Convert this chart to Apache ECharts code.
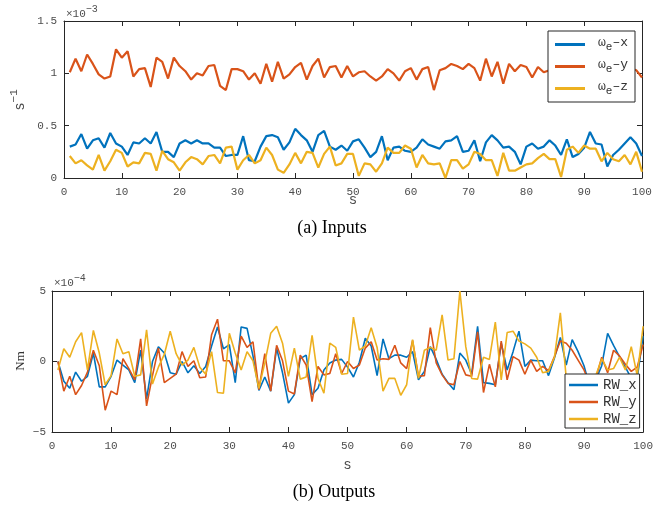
<!DOCTYPE html>
<html><head><meta charset="utf-8">
<script src="https://cdn.jsdelivr.net/npm/echarts@6.0.0/dist/echarts.min.js"></script>
<style>html,body{margin:0;padding:0;background:#fff}#c{width:656px;height:506px}</style>
</head><body><div id="c"></div>
<script>
// sample index (s)
const steps = Array.from({length: 100}, (_, i) => i + 1);
const xTicks = {min: 0, max: 100, interval: 10};

// (a) Inputs, units of 1e-3 s^-1
const inputScaleExp = -3;
const omegaX = [
0.30,0.32,0.42,0.28,0.36,0.38,0.29,0.43,0.33,0.30,
0.22,0.34,0.33,0.38,0.33,0.44,0.25,0.25,0.20,0.33,
0.36,0.33,0.36,0.33,0.33,0.29,0.29,0.21,0.22,0.22,
0.40,0.17,0.16,0.30,0.40,0.41,0.39,0.27,0.34,0.47,
0.41,0.36,0.25,0.41,0.45,0.30,0.27,0.31,0.26,0.35,
0.37,0.29,0.20,0.25,0.40,0.17,0.29,0.30,0.26,0.25,
0.29,0.37,0.32,0.30,0.28,0.35,0.36,0.40,0.25,0.26,
0.36,0.16,0.34,0.41,0.36,0.29,0.30,0.25,0.13,0.30,
0.33,0.28,0.30,0.36,0.31,0.22,0.37,0.20,0.23,0.29,
0.44,0.33,0.32,0.11,0.22,0.27,0.33,0.39,0.33,0.21];
const omegaY = [
1.01,1.14,1.02,1.18,1.09,0.99,0.95,0.97,1.23,1.15,
1.21,0.97,1.04,1.05,0.87,1.15,1.11,0.95,1.15,1.07,
1.02,0.94,1.00,0.98,1.07,1.08,0.88,0.84,1.04,1.04,
1.02,0.94,1.00,0.90,1.09,0.92,1.11,0.95,0.99,1.06,
1.10,0.94,1.07,1.14,0.96,1.06,1.07,0.96,1.07,0.97,
1.01,1.02,0.97,0.93,0.97,1.04,1.00,0.93,1.02,1.05,
0.94,1.04,1.06,0.84,1.03,1.05,1.09,1.07,1.04,1.09,
1.05,0.93,1.14,0.97,1.11,0.90,1.09,1.02,1.08,1.06,
0.96,1.06,1.01,1.03,0.98,1.05,0.95,1.02,1.08,0.97,
1.04,0.99,1.06,0.94,1.03,1.01,0.98,1.05,1.03,0.96];
const omegaZ = [
0.21,0.14,0.17,0.12,0.08,0.22,0.07,0.16,0.27,0.24,
0.11,0.15,0.14,0.24,0.23,0.07,0.26,0.18,0.15,0.07,
0.15,0.20,0.18,0.13,0.21,0.22,0.14,0.29,0.30,0.08,
0.17,0.22,0.14,0.17,0.29,0.22,0.08,0.05,0.13,0.24,
0.14,0.25,0.24,0.10,0.23,0.30,0.12,0.14,0.23,0.23,
0.02,0.14,0.13,0.06,0.14,0.29,0.24,0.24,0.31,0.28,
0.10,0.22,0.14,0.13,0.14,0.00,0.17,0.17,0.09,0.13,
0.25,0.23,0.17,0.17,0.02,0.24,0.07,0.07,0.10,0.13,
0.14,0.19,0.23,0.18,0.18,0.01,0.27,0.30,0.24,0.31,
0.28,0.28,0.16,0.24,0.18,0.16,0.22,0.13,0.25,0.06];
const inputYTicks = {min: 0, max: 1.5, interval: 0.5};

// (b) Outputs, units of 1e-4 Nm
const outputScaleExp = -4;
const rwX = [
0.00,-1.40,-1.90,-0.75,-1.40,-1.05,0.60,-1.80,-1.80,-1.05,
0.10,-0.25,-0.60,-1.50,0.80,-2.65,0.00,1.05,0.60,-0.80,
-0.90,0.00,-0.80,-0.30,-0.85,-0.35,1.10,2.45,0.90,1.20,
-1.50,2.45,2.35,0.40,-2.05,-1.10,-2.10,0.95,-0.80,-2.95,
-2.35,0.20,0.45,-2.35,-1.90,-0.60,-0.10,0.10,0.15,-0.40,
-1.10,-0.05,1.65,1.10,-1.00,1.60,0.20,0.45,0.45,0.30,
0.70,-1.30,-0.70,1.05,0.15,-0.90,-1.50,-2.00,0.60,0.10,
-0.90,2.50,-1.50,-1.55,-1.65,1.30,-0.60,0.70,2.15,-0.35,
0.10,0.05,0.05,-1.00,0.25,1.70,-0.25,1.55,0.70,-0.30,
-1.80,-1.30,-0.30,2.00,1.15,0.35,-0.40,-1.20,-1.20,1.80];
const rwY = [
0.00,-2.10,-1.05,-2.35,-1.70,-0.75,0.80,-0.30,-3.45,-2.10,
-2.35,0.20,-0.50,-1.30,1.60,-3.15,-1.00,0.95,-1.50,-1.20,
-0.90,0.70,-0.35,0.05,-1.15,-1.10,1.90,3.00,0.05,0.05,
-0.80,1.80,1.00,1.40,-2.00,0.55,-2.10,1.15,0.05,-2.10,
-2.30,0.45,-0.25,-2.85,-0.35,-0.95,-0.85,0.55,-0.85,0.00,
-0.50,-0.25,0.95,1.40,0.10,0.20,0.15,1.15,-0.10,-0.50,
1.50,-1.05,-1.00,2.40,-0.10,-0.95,-1.55,-1.65,0.00,-0.95,
-1.05,2.10,-2.20,-0.20,-1.80,1.45,-1.30,0.35,0.10,-0.90,
0.10,-0.70,-0.35,-0.65,0.35,1.45,1.30,0.80,0.10,-0.60,
-1.60,-1.20,0.30,-0.80,0.80,0.40,-0.20,-0.70,-0.40,1.20];
const rwZ = [
-0.60,0.90,0.30,1.40,2.05,-0.60,2.20,0.60,-1.65,-1.00,
1.60,0.55,0.70,-1.05,-0.95,2.25,-1.60,-0.40,0.50,2.15,
0.55,-0.25,0.10,1.00,-0.40,-0.90,0.70,-2.20,-2.25,2.00,
0.60,-0.60,0.70,0.05,-1.90,-0.10,2.00,2.50,1.30,-1.05,
0.95,-1.25,-1.10,1.85,-1.20,-2.25,1.30,1.00,-0.90,-0.85,
3.15,0.80,1.10,2.40,1.00,-2.10,-1.20,-1.20,-2.40,-1.65,
1.55,-1.20,0.80,1.00,0.80,3.30,0.10,0.20,5.00,1.05,
-1.20,-1.25,0.30,0.15,2.80,-1.30,2.05,2.15,1.45,1.25,
0.95,0.30,-0.80,-0.70,0.30,3.45,-1.20,-1.50,-2.00,-1.50,
-1.80,-1.00,0.20,-0.60,-0.50,0.30,-0.60,1.05,-1.00,2.50];
const outputYTicks = {min: -5, max: 5, interval: 5};

const inputNames = ['ω_e_x', 'ω_e_y', 'ω_e_z'];
const outputNames = ['RW_x', 'RW_y', 'RW_z'];
const captions = ['(a) Inputs', '(b) Outputs'];

const MONO = '"Liberation Mono", "DejaVu Sans Mono", monospace';
const SERIF = '"Liberation Serif", "DejaVu Serif", serif';
const AX = '#262626', LBL = '#4d4d4d';
const COLORS = ['#0072BD', '#D95319', '#EDB120'];

const pair = arr => steps.map((s, i) => [s, arr[i]]);
const minus = v => (v < 0 ? '\u2212' + (-v) : String(v));

function xAxes(g, nameGap) {
  const base = {gridIndex: g, type: 'value', min: xTicks.min, max: xTicks.max, interval: xTicks.interval,
    splitLine: {show: false}, axisLine: {onZero: false, lineStyle: {color: AX, width: 1}},
    axisTick: {inside: true, length: 5, lineStyle: {color: AX}}};
  return [
    Object.assign({}, base, {position: 'bottom',
      axisLabel: {color: LBL, fontFamily: MONO, fontSize: 11, margin: 9},
      name: 's', nameLocation: 'middle', nameGap: nameGap, nameMoveOverlap: false,
      nameTextStyle: {fontFamily: MONO, fontSize: 14, color: LBL}}),
    Object.assign({}, base, {position: 'top', axisLabel: {show: false}})
  ];
}
function yAxes(g, t, margin, fmt) {
  const base = {gridIndex: g, type: 'value', min: t.min, max: t.max, interval: t.interval,
    splitLine: {show: false}, axisLine: {show: true, onZero: false, lineStyle: {color: AX, width: 1}},
    axisTick: {show: true, inside: true, length: 5, lineStyle: {color: AX}}};
  return [
    Object.assign({}, base, {position: 'left',
      axisLabel: {color: LBL, fontFamily: MONO, fontSize: 11, margin: margin, formatter: fmt}}),
    Object.assign({}, base, {position: 'right', axisLabel: {show: false}})
  ];
}

const inSeries = [omegaX, omegaY, omegaZ].map((d, i) => ({
  name: inputNames[i], type: 'line', xAxisIndex: 0, yAxisIndex: 0, data: pair(d),
  symbol: 'none', showSymbol: false, lineStyle: {width: 2.2, color: COLORS[i]}, itemStyle: {color: COLORS[i]},
  animation: false
}));
const outSeries = [rwX, rwY, rwZ].map((d, i) => ({
  name: outputNames[i], type: 'line', xAxisIndex: 2, yAxisIndex: 2, data: pair(d),
  symbol: 'none', showSymbol: false, lineStyle: {width: 1.6, color: COLORS[i]}, itemStyle: {color: COLORS[i]},
  animation: false
}));

const chart = echarts.init(document.getElementById('c'), null, {renderer: 'canvas'});
chart.setOption({
  animation: false,
  backgroundColor: '#fff',
  grid: [
    {left: 64, top: 21, width: 578, height: 157},
    {left: 52, top: 291, width: 595, height: 141}
  ],
  xAxis: [...xAxes(0, 15), ...xAxes(1, 26)],
  yAxis: [...yAxes(0, inputYTicks, 7, null), ...yAxes(1, outputYTicks, 6, minus)],
  legend: [
    {
      data: inputNames, orient: 'vertical', left: 548, top: 31, selectedMode: false,
      icon: 'rect', itemWidth: 30, itemHeight: 3, itemGap: 5,
      padding: [5, 7, 5, 7], backgroundColor: '#fff', borderColor: AX, borderWidth: 1,
      formatter: n => '{w0|ω}{s|e}{w|\u2013' + n.slice(-1) + '}',
      textStyle: {color: AX, fontFamily: MONO, fontSize: 13, rich: {
        w0: {fontFamily: MONO, fontSize: 13, color: '#333', verticalAlign: 'bottom', padding: [0, 0, 4, 8]},
        w: {fontFamily: MONO, fontSize: 13, color: '#333', verticalAlign: 'bottom', padding: [0, 0, 4, 0]},
        s: {fontFamily: MONO, fontSize: 11, color: '#333', verticalAlign: 'bottom', padding: [0, 0, 0, 0]}
      }}
    },
    {
      data: outputNames, orient: 'vertical', left: 565, top: 374, selectedMode: false,
      icon: 'rect', itemWidth: 29, itemHeight: 2.5, itemGap: 3,
      padding: [4, 3, 2, 4], backgroundColor: '#fff', borderColor: AX, borderWidth: 1,
      textStyle: {color: '#333', fontFamily: MONO, fontSize: 14, lineHeight: 14}
    }
  ],
  graphic: [
    {type: 'text', left: 66, top: 4, style: {
      text: '{a|×10}{b|\u2212' + (-inputScaleExp) + '}', fill: LBL,
      rich: {a: {fontFamily: MONO, fontSize: 11, fill: LBL, verticalAlign: 'bottom'},
             b: {fontFamily: MONO, fontSize: 10, fill: LBL, verticalAlign: 'bottom', padding: [0, 0, 6, 0]}}}},
    {type: 'text', left: 54, top: 273, style: {
      text: '{a|×10}{b|\u2212' + (-outputScaleExp) + '}', fill: LBL,
      rich: {a: {fontFamily: MONO, fontSize: 11, fill: LBL, verticalAlign: 'bottom'},
             b: {fontFamily: MONO, fontSize: 10, fill: LBL, verticalAlign: 'bottom', padding: [0, 0, 6, 0]}}}},
    {type: 'text', x: 18, y: 100, rotation: Math.PI / 2, style: {
      text: '{a|s}{b|\u22121}', align: 'center', verticalAlign: 'middle', fill: LBL,
      rich: {a: {fontFamily: MONO, fontSize: 14, fill: LBL, verticalAlign: 'bottom'},
             b: {fontFamily: MONO, fontSize: 11, fill: LBL, verticalAlign: 'bottom', padding: [0, 0, 7, 0]}}}},
    {type: 'text', x: 21, y: 361, rotation: Math.PI / 2, style: {
      text: 'Nm', align: 'center', verticalAlign: 'middle', fill: '#333',
      font: '13px ' + SERIF}},
    {type: 'text', x: 332, y: 228, style: {
      text: captions[0], align: 'center', verticalAlign: 'middle', fill: '#000',
      font: '18px ' + SERIF}},
    {type: 'text', x: 334, y: 492, style: {
      text: captions[1], align: 'center', verticalAlign: 'middle', fill: '#000',
      font: '18px ' + SERIF}}
  ],
  series: [...inSeries, ...outSeries]
});
</script>
</body></html>
